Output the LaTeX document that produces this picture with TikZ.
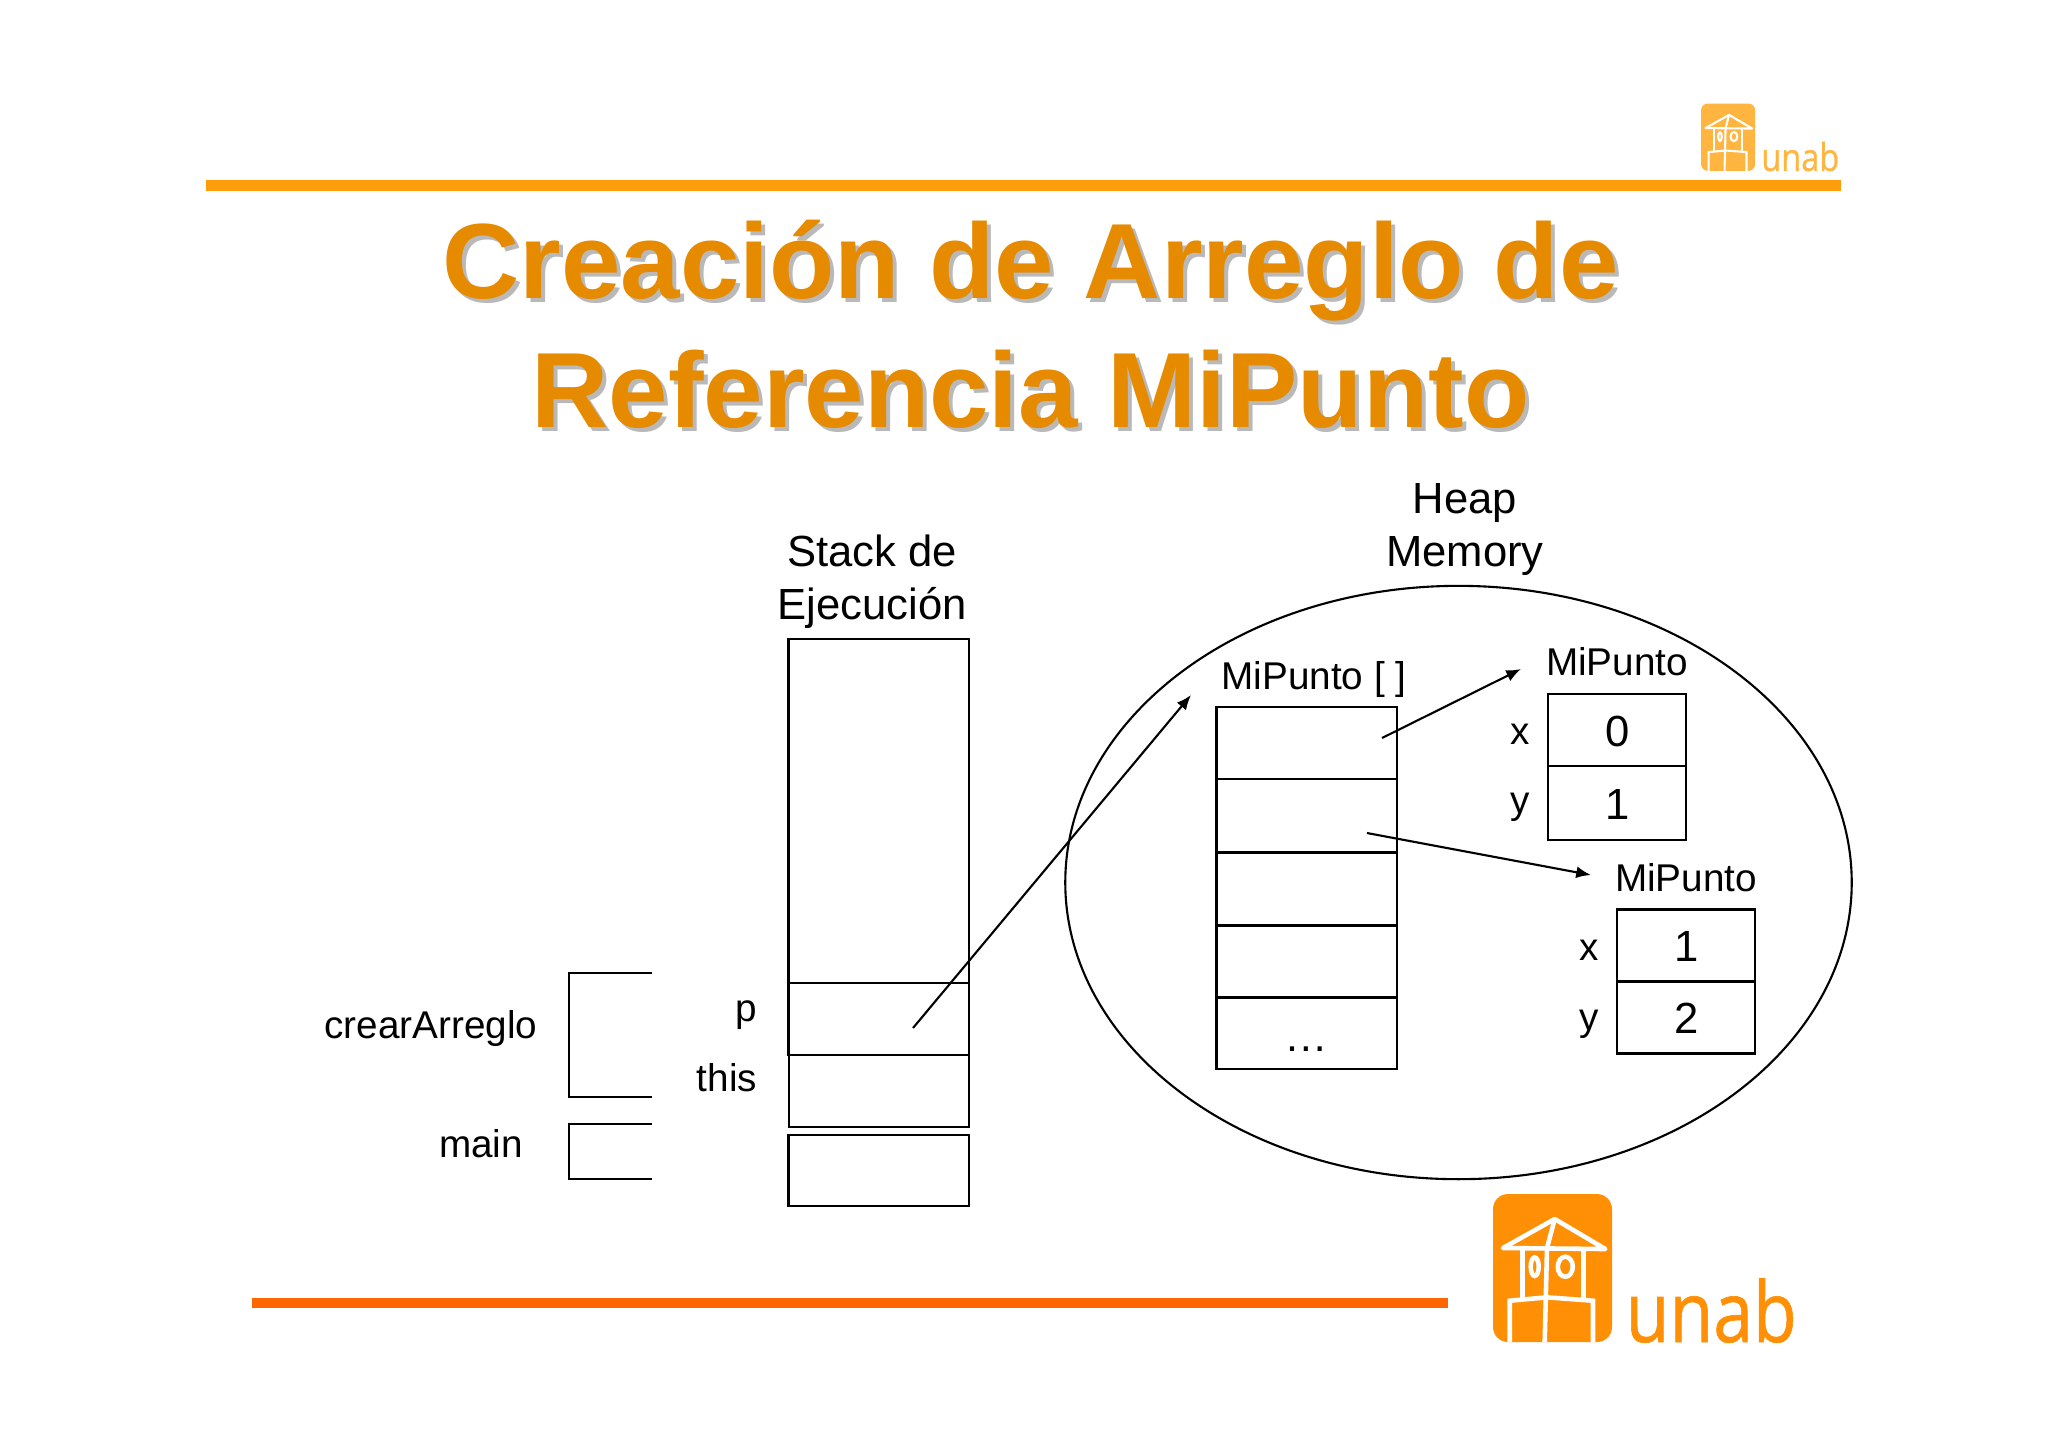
\documentclass[tikz,border=0pt]{standalone}
\usepackage{fontspec}
\setmainfont{Liberation Sans}
\newfontfamily\logofont[FakeBold=0.8]{Open Sans}
\usetikzlibrary{shapes.geometric,arrows.meta}
\definecolor{barTop}{HTML}{FF9E0A}
\definecolor{barBot}{HTML}{FF6600}
\definecolor{titleCol}{HTML}{E68A00}
\definecolor{titleShade}{HTML}{B9B9B9}
\definecolor{logoBig}{HTML}{FF8F05}
\definecolor{logoSmall}{HTML}{FFB53F}
\tikzset{
	lbl/.style={anchor=base,inner sep=0pt,font=\fontsize{11}{13}\selectfont},
	hdr/.style={anchor=base,inner sep=0pt,font=\fontsize{12.4}{15}\selectfont},
	ttl/.style={anchor=base,inner sep=0pt,font=\fontsize{30.4}{36}\selectfont\bfseries},
	cell/.style={draw,line width=0.6pt,inner sep=0pt,minimum width=#1},
	cell/.default=1.8cm,
	ref/.style={-{Latex[length=4.2pt,width=3.4pt]},line width=0.6pt}
}
% logo: left, top, scale, colour
\newcommand{\logounab}[4]{
	\begin{scope}[shift={(#1,#2)},scale=#3]
	\fill[#4,rounded corners=#3*0.15cm] (0,0) rectangle (119,148);
	\draw[white,line width=#3*1.3pt,line join=round] (10,54) -- (61.7,25) -- (112.3,55) -- cycle;
	\draw[white,line width=#3*1.3pt] (61.7,25) -- (54,54) -- (51.7,148);
	\draw[white,line width=#3*1.3pt] (29.3,55) -- (29.3,105);
	\draw[white,line width=#3*1.3pt] (90.7,55) -- (90.7,105);
	\draw[white,line width=#3*1.3pt] (16.7,148) -- (16.7,106.7) -- (54,103.3) -- (100,106.7) -- (100,148);
	\draw[white,line width=#3*1.3pt] (41.7,72.7) ellipse [x radius=4,y radius=9.3];
	\draw[white,line width=#3*1.3pt] (72.3,72.7) ellipse [x radius=7.5,y radius=10];
	\node[#4,anchor=base west,inner sep=0pt,xscale=0.85,transform shape,font=\logofont\fontsize{23.9}{28}\selectfont] at (132,148) {unab};
	\end{scope}
}

\begin{document}
\begin{tikzpicture}[x=0.01cm,y=-0.01cm]
	\useasboundingbox (0,0) rectangle (2048,1447);
	% bars and logos
	\fill[barTop] (206,180) rectangle (1841,191);
	\fill[barBot] (252,1298) rectangle (1448,1308);
	\logounab{1701}{103.5}{0.455}{logoSmall}
	\logounab{1493}{1194}{1}{logoBig}
	% title
	\foreach \tid/\ty/\ttext in {a/298.5/Creación de Arreglo de,b/427.5/Referencia MiPunto}{
		\node[ttl,titleShade] (shade\tid) at (1034.5,\ty+4) {\ttext};
		\node[ttl,titleCol] (title\tid) at (1030.5,\ty) {\ttext};
	}
	% stack
	\node[hdr] (stacka) at (872,566) {Stack de};
	\node[hdr] (stackb) at (872,619) {Ejecución};
	\node[cell,minimum height=3.43cm] (stack) at (878.5,811) {};
	\node[cell,minimum height=0.72cm] (p) at (878.5,1019) {};
	\node[cell,minimum height=0.72cm] (this) at (879,1091) {};
	\node[cell,minimum height=0.71cm] (main) at (878.5,1170.5) {};
	\node[lbl] (plbl) at (746,1021) {p};
	\node[lbl] (thislbl) at (727,1091) {this};
	\node[lbl] (crear) at (431,1038) {crearArreglo};
	\node[lbl] (mainlbl) at (481,1157) {main};
	\draw[line width=0.6pt] (652,973) -- (569,973) -- (569,1097) -- (652,1097);
	\draw[line width=0.6pt] (652,1124) -- (569,1124) -- (569,1179) -- (652,1179);
	% heap
	\node[hdr] (heapa) at (1465,513) {Heap};
	\node[hdr] (heapb) at (1465,566) {Memory};
	\node[draw,ellipse,line width=0.6pt,inner sep=0pt,minimum width=7.86cm,minimum height=5.93cm] (heap) at (1458.5,882.5) {};
	% array of references
	\node[lbl] (arrlbl) at (1314,689) {MiPunto [ ]};
	\foreach \i/\y/\h in {1/743/0.715cm,2/816/0.735cm,3/889/0.73cm,4/961.5/0.72cm,5/1033/0.715cm}{
		\node[cell,minimum height=\h] (arr\i) at (1306.5,\y) {};
	}
	\node[hdr] (dots) at (1306,1051) {…};
	% first object
	\node[lbl] (objalbl) at (1617,675) {MiPunto};
	\node[cell=1.38cm,minimum height=0.715cm] (ax) at (1617,730) {};
	\node[cell=1.38cm,minimum height=0.735cm] (ay) at (1617,803) {};
	\node[hdr] at (1617.5,746) {0};
	\node[hdr] at (1617.5,819) {1};
	\node[lbl] (axlbl) at (1520,744) {x};
	\node[lbl] (aylbl) at (1520,813) {y};
	% second object
	\node[lbl] (objblbl) at (1686,891) {MiPunto};
	\node[cell=1.38cm,minimum height=0.72cm] (bx) at (1686,945.5) {};
	\node[cell=1.38cm,minimum height=0.72cm] (by) at (1686,1017.5) {};
	\node[hdr] at (1686.5,961) {1};
	\node[hdr] at (1686.5,1033) {2};
	\node[lbl] (bxlbl) at (1589,960) {x};
	\node[lbl] (bylbl) at (1589,1030) {y};
	% references
	\coordinate (pfrom) at (913,1028);
	\coordinate (pto) at (1191,695);
	\coordinate (arrafrom) at (1382,738);
	\coordinate (arrato) at (1521,669);
	\coordinate (arrbfrom) at (1367,833);
	\coordinate (arrbto) at (1591,875);
	\draw[ref] (pfrom) -- (pto);
	\draw[ref] (arrafrom) -- (arrato);
	\draw[ref] (arrbfrom) -- (arrbto);
\end{tikzpicture}
\end{document}
